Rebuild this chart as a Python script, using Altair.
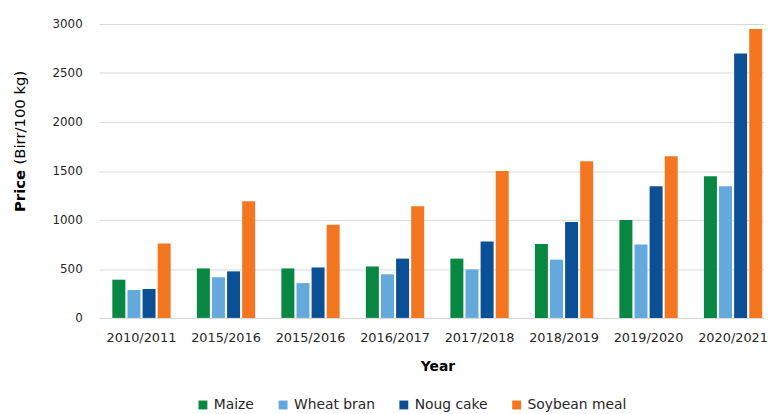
import altair as alt
import pandas as pd

years = ["2010/2011", "2015/2016", "2015/2016", "2016/2017",
         "2017/2018", "2018/2019", "2019/2020", "2020/2021"]
feeds = ["Maize", "Wheat bran", "Noug cake", "Soybean meal"]
maize = [390, 505, 505, 525, 605, 755, 1000, 1445]
wheat_bran = [285, 415, 355, 445, 495, 595, 750, 1345]
noug_cake = [295, 475, 515, 605, 780, 980, 1345, 2700]
soybean_meal = [760, 1190, 950, 1140, 1500, 1600, 1650, 2950]
colors = ["#088743", "#64a9dc", "#0b5095", "#f47621"]
y_ticks = [0, 500, 1000, 1500, 2000, 2500, 3000]

series = [maize, wheat_bran, noug_cake, soybean_meal]
rows = []
for f, vals in zip(feeds, series):
    for i, v in enumerate(vals):
        rows.append({"k": i, "feed": f, "price": v})
df = pd.DataFrame(rows)

FONT = "DejaVu Sans"
label_expr = "[" + ",".join("'%s'" % y for y in years) + "][datum.value]"

bars = alt.Chart(df).mark_bar().encode(
    x=alt.X("k:O", title="Year",
            scale=alt.Scale(paddingInner=0.31, paddingOuter=0.0895, align=0.88),
            axis=alt.Axis(labelExpr=label_expr, labelAngle=0, labelFontSize=13,
                          labelColor="#262626", labelFont=FONT, labelPadding=14,
                          ticks=False, domainColor="#d9d9d9",
                          titleFont=FONT, titleFontSize=14, titleFontWeight="bold",
                          titleColor="#000000", titleX=342, titleY=53,
                          titleBaseline="alphabetic", titleAlign="center")),
    xOffset=alt.XOffset("feed:N", sort=feeds,
                        scale=alt.Scale(paddingInner=0.14, paddingOuter=0)),
    y=alt.Y("price:Q", title=None,
            scale=alt.Scale(domain=[0, 3000], nice=False),
            axis=alt.Axis(values=y_ticks, format="d", domain=False, ticks=False,
                          labelFontSize=12, labelFont=FONT, labelColor="#262626",
                          labelPadding=17, gridColor="#d9d9d9")),
    color=alt.Color("feed:N", sort=feeds,
                    scale=alt.Scale(domain=feeds, range=colors),
                    legend=alt.Legend(title=None, orient="none", legendX=98, legendY=378,
                                      direction="horizontal", columns=4,
                                      symbolType="square", symbolSize=81,
                                      symbolStrokeWidth=0, labelFontSize=14,
                                      labelFont=FONT, labelColor="#262626",
                                      labelOffset=4, columnPadding=22)),
)

t1 = alt.Chart(pd.DataFrame({"t": ["Price"]})).mark_text(
    angle=270, align="left", baseline="middle", font=FONT, fontSize=15,
    fontWeight="bold", color="#000000"
).encode(text="t:N", x=alt.value(-80), y=alt.value(190))

t2 = alt.Chart(pd.DataFrame({"t": ["(Birr/100 kg)"]})).mark_text(
    angle=270, align="left", baseline="middle", font=FONT, fontSize=15,
    color="#000000"
).encode(text="t:N", x=alt.value(-80), y=alt.value(142))

chart = alt.layer(bars, t1, t2).properties(
    width=672, height=297,
    autosize=alt.AutoSizeParams(type="none"),
    padding={"left": 92, "top": 14, "right": 4, "bottom": 100},
).configure_view(stroke=None)

chart.save("out.html", embed_options={"renderer": "svg", "actions": False})
